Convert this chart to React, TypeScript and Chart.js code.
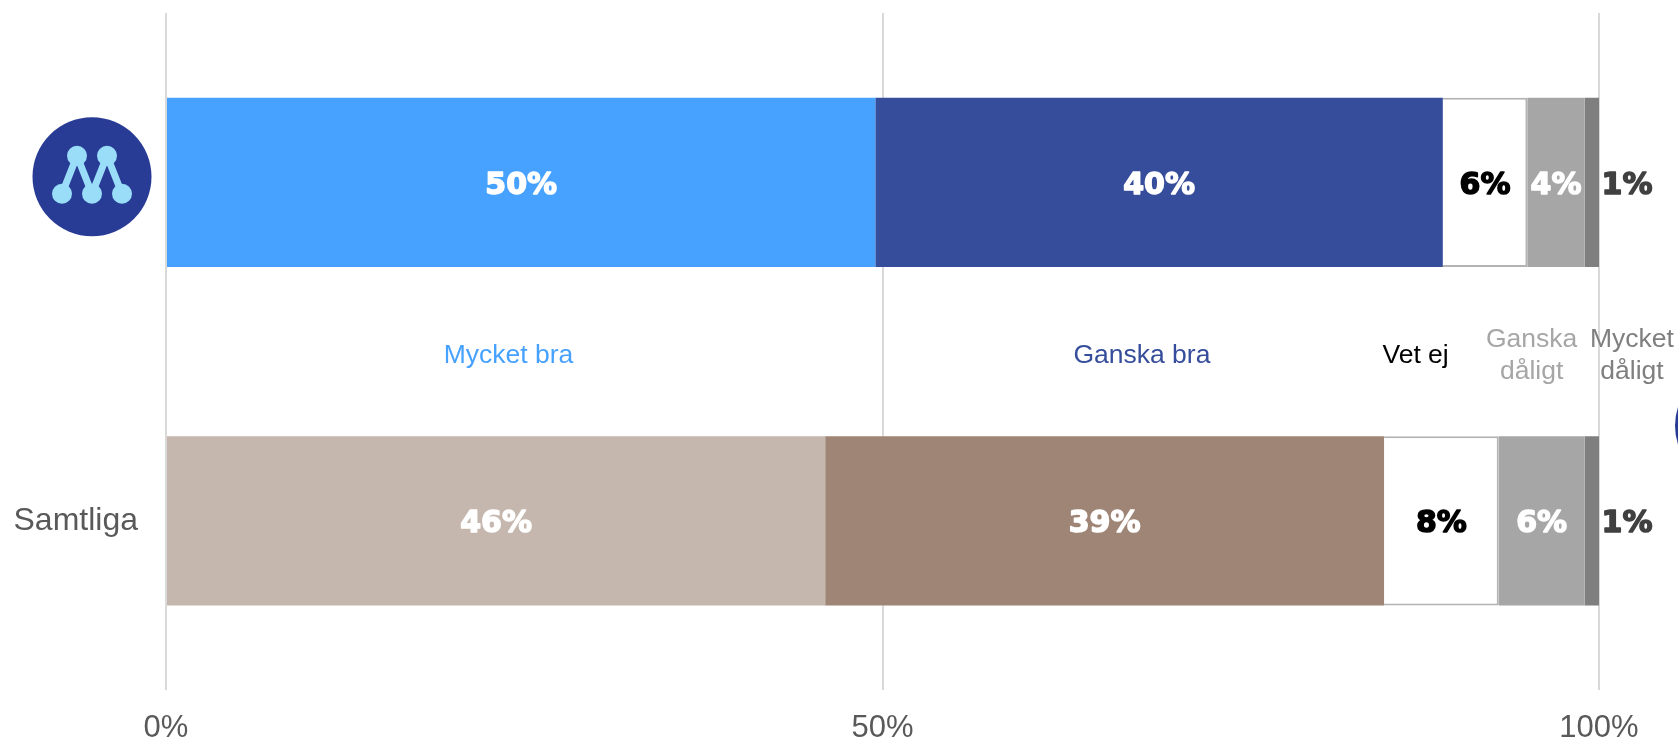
import React, { useEffect, useRef } from "react";
import { Chart, registerables } from "chart.js";

Chart.register(...registerables);

const categories = ["Moderaterna", "Samtliga"];
const seriesNames = ["Mycket bra", "Ganska bra", "Vet ej", "Ganska dåligt", "Mycket dåligt"];
const mycketBra = [49.5, 46.0];
const ganskaBra = [39.6, 39.0];
const vetEj = [5.9, 8.0];
const ganskaDaligt = [4.0, 6.0];
const mycketDaligt = [1.0, 1.0];
const labelMycketBra = ["50%", "46%"];
const labelGanskaBra = ["40%", "39%"];
const labelVetEj = ["6%", "8%"];
const labelGanskaDaligt = ["4%", "6%"];
const labelMycketDaligt = ["1%", "1%"];
const xTicks = [0, 50, 100];

const FONT = '"Liberation Sans", Arial, sans-serif';
const HEAVY = '"DejaVu Sans", "Liberation Sans", sans-serif';

const headerLines = [["Mycket bra"], ["Ganska bra"], ["Vet ej"], ["Ganska", "dåligt"], ["Mycket", "dåligt"]];
const headerColors = ["#47a2ff", "#354d9b", "#000000", "#a6a6a6", "#7f7f7f"];
const headerAt = [23.9, 68.1, 87.2, 95.3, 102.3];

const valueLabels = [labelMycketBra, labelGanskaBra, labelVetEj, labelGanskaDaligt, labelMycketDaligt];
const valueColors = ["#ffffff", "#ffffff", "#000000", "#ffffff", "#404040"];

function drawLogo(ctx: CanvasRenderingContext2D, cx: number, cy: number, r: number) {
  const s = r / 59.5;
  ctx.save();
  ctx.fillStyle = "#283c96";
  ctx.beginPath();
  ctx.arc(cx, cy, r, 0, Math.PI * 2);
  ctx.fill();
  const pts = [[-30, 17], [-15, -21], [0, 17], [15, -21], [30, 17]];
  ctx.strokeStyle = "#99ddf9";
  ctx.fillStyle = "#99ddf9";
  ctx.lineWidth = 7 * s;
  ctx.beginPath();
  pts.forEach(([x, y], i) => {
    if (i === 0) ctx.moveTo(cx + x * s, cy + y * s);
    else ctx.lineTo(cx + x * s, cy + y * s);
  });
  ctx.stroke();
  pts.forEach(([x, y]) => {
    ctx.beginPath();
    ctx.arc(cx + x * s, cy + y * s, 10 * s, 0, Math.PI * 2);
    ctx.fill();
  });
  ctx.restore();
}

const overlay = {
  id: "overlay",
  afterDraw(chart: any) {
    const { ctx, scales } = chart;
    const x = scales.x;
    const y = scales.y;
    ctx.save();

    // value labels
    ctx.textAlign = "center";
    ctx.textBaseline = "middle";
    ctx.lineJoin = "round";
    valueLabels.forEach((labels, ds) => {
      labels.forEach((text, i) => {
        const meta = chart.getDatasetMeta(ds).data[i];
        const outside = ds === 4;
        const px = outside ? meta.x + 28 : meta.x - meta.width / 2;
        const py = y.getPixelForValue(i) + 3.5;
        ctx.font = `bold 30px ${HEAVY}`;
        ctx.fillStyle = valueColors[ds];
        ctx.strokeStyle = valueColors[ds];
        ctx.lineWidth = 1.5;
        ctx.strokeText(text, px, py);
        ctx.fillText(text, px, py);
      });
    });

    // series headers between the bars
    const midY = (y.getPixelForValue(0) + y.getPixelForValue(1)) / 2 + 4;
    ctx.font = `26.5px ${FONT}`;
    headerLines.forEach((lines, i) => {
      ctx.fillStyle = headerColors[i];
      lines.forEach((line, j) => {
        const py = midY + (j - (lines.length - 1) / 2) * 31.5;
        ctx.fillText(line, x.getPixelForValue(headerAt[i]), py);
      });
    });

    // logo on the first category
    drawLogo(ctx, 92, y.getPixelForValue(0) - 5.5, 59.5);
    // logo sliver at the right edge
    drawLogo(ctx, 1734.5, y.getPixelForValue(0) + 243.5, 59.5);
    ctx.restore();
  },
};

export default function App() {
  const ref = useRef<HTMLCanvasElement>(null);
  useEffect(() => {
    document.body.style.margin = "0";
    const chart = new Chart(ref.current!, {
      type: "bar",
      data: {
        labels: categories,
        datasets: [
          { label: seriesNames[0], data: mycketBra, backgroundColor: ["#47a2ff", "#c5b7ae"] },
          { label: seriesNames[1], data: ganskaBra, backgroundColor: ["#354d9b", "#9f8576"] },
          { label: seriesNames[2], data: vetEj, backgroundColor: "#ffffff", borderColor: "#b3b3b3", borderWidth: 2 },
          { label: seriesNames[3], data: ganskaDaligt, backgroundColor: "#a6a6a6" },
          { label: seriesNames[4], data: mycketDaligt, backgroundColor: "#7f7f7f" },
        ],
      },
      options: {
        indexAxis: "y",
        responsive: false,
        animation: false,
        events: [],
        layout: { padding: { top: 13, right: 79, bottom: 0, left: 0 } },
        plugins: { legend: { display: false }, tooltip: { enabled: false } },
        datasets: { bar: { barPercentage: 0.5, categoryPercentage: 1 } },
        scales: {
          x: {
            stacked: true,
            min: 0,
            max: 100,
            afterBuildTicks: (s: any) => {
              s.ticks = xTicks.map((value) => ({ value }));
            },
            afterFit: (s: any) => {
              s.height = 50;
            },
            grid: { color: "#d9d9d9", lineWidth: 2, drawTicks: false },
            border: { display: false },
            ticks: {
              padding: 20,
              maxRotation: 0,
              color: "#595959",
              font: { family: FONT, size: 31 },
              callback: (v: any) => `${v}%`,
            },
          },
          y: {
            stacked: true,
            afterFit: (s: any) => {
              s.width = 166;
              s.paddingTop = 0;
              s.paddingBottom = 0;
            },
            grid: { display: false, drawTicks: false },
            border: { display: false },
            ticks: {
              padding: 28,
              color: "#595959",
              font: { family: FONT, size: 32 },
              callback: (_: any, i: number) => (i === 0 ? "" : categories[i]),
            },
          },
        },
      },
      plugins: [overlay],
    } as any);
    return () => chart.destroy();
  }, []);
  return <canvas ref={ref} width={1678} height={740} style={{ display: "block" }} />;
}
